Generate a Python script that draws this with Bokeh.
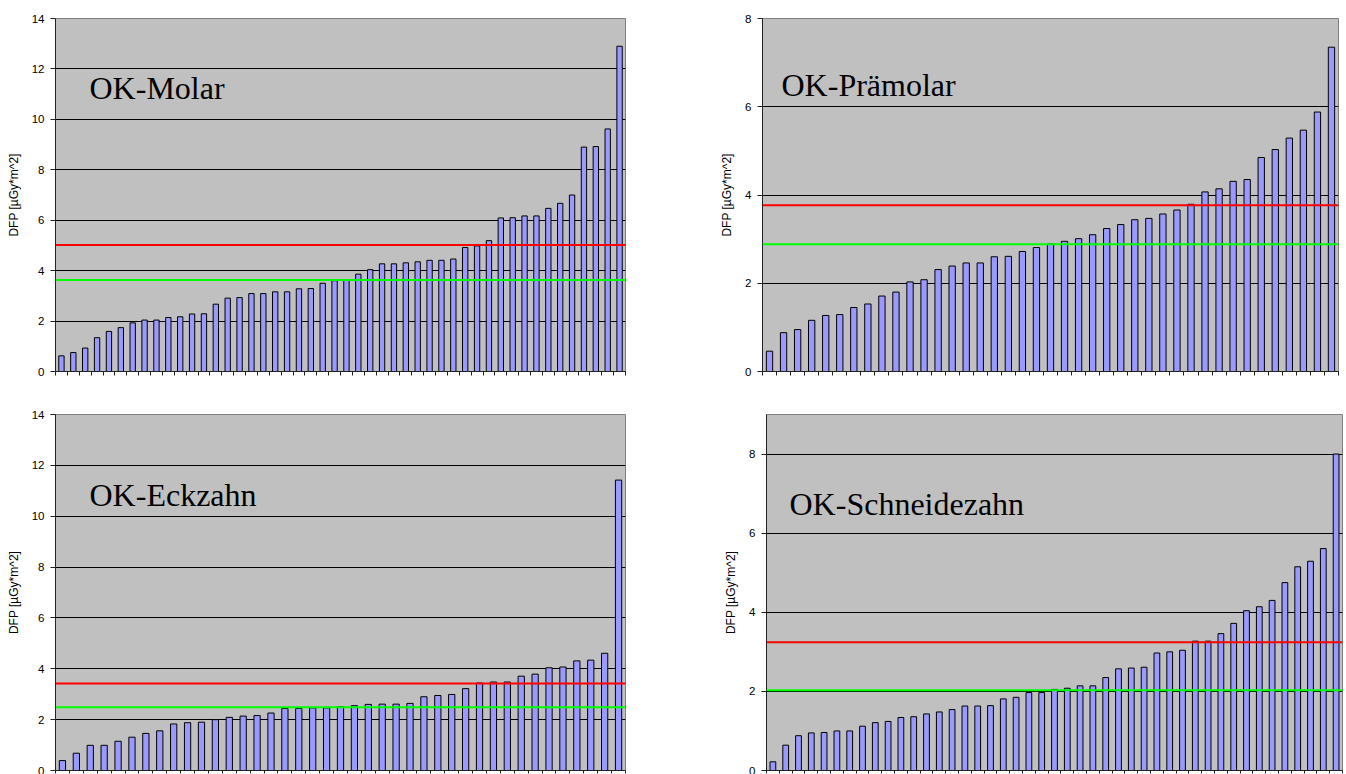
from bokeh.plotting import figure
from bokeh.models import Range1d, FixedTicker, Span, Label, CustomLabelingPolicy
from bokeh.layouts import column, row
from bokeh.embed import file_html
from bokeh.resources import INLINE

# ---- data ----
molar_values = [0.62, 0.75, 0.93, 1.34, 1.59, 1.74, 1.93, 2.04, 2.04, 2.14, 2.17, 2.28,
                2.29, 2.67, 2.91, 2.93, 3.09, 3.09, 3.16, 3.16, 3.28, 3.29, 3.50, 3.60,
                3.61, 3.86, 4.04, 4.27, 4.27, 4.31, 4.35, 4.41, 4.41, 4.46, 4.92, 4.98,
                5.19, 6.09, 6.10, 6.17, 6.17, 6.47, 6.67, 7.00, 8.90, 8.92, 9.62, 12.90]
praemolar_values = [0.46, 0.88, 0.95, 1.16, 1.27, 1.29, 1.45, 1.53, 1.71, 1.80, 2.03, 2.08,
                    2.31, 2.39, 2.46, 2.46, 2.60, 2.61, 2.72, 2.81, 2.89, 2.95, 3.01, 3.10,
                    3.24, 3.33, 3.44, 3.47, 3.57, 3.66, 3.79, 4.07, 4.14, 4.31, 4.35, 4.85,
                    5.03, 5.29, 5.47, 5.88, 7.35]
eckzahn_values = [0.39, 0.68, 0.99, 0.99, 1.15, 1.31, 1.46, 1.56, 1.83, 1.88, 1.90, 2.00,
                  2.09, 2.14, 2.16, 2.26, 2.44, 2.44, 2.46, 2.46, 2.51, 2.55, 2.60, 2.61,
                  2.61, 2.64, 2.90, 2.95, 2.99, 3.22, 3.44, 3.48, 3.48, 3.71, 3.79, 4.04,
                  4.07, 4.31, 4.34, 4.61, 11.42]
schneidezahn_values = [0.22, 0.64, 0.88, 0.95, 0.96, 1.00, 1.00, 1.12, 1.21, 1.24, 1.34, 1.36,
                       1.43, 1.48, 1.54, 1.63, 1.63, 1.64, 1.81, 1.85, 1.97, 1.97, 2.05, 2.08,
                       2.14, 2.14, 2.35, 2.57, 2.59, 2.61, 2.97, 3.00, 3.04, 3.27, 3.27, 3.46,
                       3.72, 4.04, 4.14, 4.30, 4.75, 5.15, 5.29, 5.61, 8.00]

titles = ["OK-Molar", "OK-Prämolar", "OK-Eckzahn", "OK-Schneidezahn"]
red_levels = [5.02, 3.77, 3.42, 3.24]      # upper reference line
green_levels = [3.63, 2.885, 2.49, 2.03]   # lower reference line
y_max = [14, 8, 14, 9]
y_ticks = [[0, 2, 4, 6, 8, 10, 12, 14], [0, 2, 4, 6, 8],
           [0, 2, 4, 6, 8, 10, 12, 14], [0, 2, 4, 6, 8]]
y_label = "DFP [µGy*m^2]"

# ---- layout / style ----
# (width, height, left, right, top, bottom, title dx px, title dy px)
geom = [
    (700, 400, 55, 75, 15, 29, 34, 70),
    (646, 400, 62, 8, 18, 27, 19, 67),
    (700, 374, 55, 75, 14, 3, 34, 81),
    (646, 374, 66, 4, 14, 4, 23, 89),
]
series = [molar_values, praemolar_values, eckzahn_values, schneidezahn_values]

hide_all_labels = CustomLabelingPolicy(code="""
for (const i of Array.from(indices)) { indices.unset(i) }
return indices
""")


def make_panel(k):
    vals = series[k]
    n = len(vals)
    w, h, bl, br, bt, bb, tdx, tdy = geom[k]
    ymax = y_max[k]
    p = figure(width=w, height=h, output_backend="svg", toolbar_location=None,
               x_range=Range1d(0.5, n + 0.5), y_range=Range1d(0, ymax),
               min_border_left=bl, min_border_right=br,
               min_border_top=bt, min_border_bottom=bb)
    p.background_fill_color = "#C0C0C0"
    p.border_fill_color = "white"
    p.outline_line_color = "#808080"
    p.outline_line_width = 1

    xs = list(range(1, n + 1))
    p.vbar(x=xs, top=vals, width=0.45, fill_color="#9999FF",
           line_color="black", line_width=1)

    p.add_layout(Span(location=red_levels[k], dimension="width",
                      line_color="#FF0000", line_width=2))
    p.add_layout(Span(location=green_levels[k], dimension="width",
                      line_color="#00FF00", line_width=2))

    # y axis
    yax = p.yaxis[0]
    yax.ticker = FixedTicker(ticks=y_ticks[k])
    yax.minor_tick_line_color = None
    yax.major_tick_in = 0
    yax.major_tick_out = 5
    yax.major_label_standoff = 6
    yax.major_label_text_font = "Liberation Sans"
    yax.major_label_text_font_size = "11.5px"
    yax.major_label_text_color = "black"
    yax.axis_line_color = "#222222"
    yax.major_tick_line_color = "#222222"
    yax.axis_label = y_label
    yax.axis_label_text_font = "Liberation Sans"
    yax.axis_label_text_font_size = "12px"
    yax.axis_label_text_font_style = "normal"
    yax.axis_label_text_color = "black"
    yax.axis_label_standoff = 8

    # x axis: ticks between categories, no labels
    xax = p.xaxis[0]
    xax.ticker = FixedTicker(ticks=[i + 0.5 for i in range(0, n + 1)])
    xax.minor_tick_line_color = None
    xax.major_tick_in = 0
    xax.major_tick_out = 4 if k < 2 else 3
    xax.major_label_policy = hide_all_labels
    xax.major_label_text_font_size = "0px"
    xax.major_label_standoff = 0
    xax.axis_line_color = "#222222"
    xax.major_tick_line_color = "#222222"

    # grid
    p.xgrid.visible = False
    p.ygrid.ticker = FixedTicker(ticks=[t for t in y_ticks[k] if 0 < t < ymax])
    p.ygrid.grid_line_color = "black"
    p.ygrid.grid_line_width = 1

    # title inside plot area
    fw = w - bl - br
    fh = h - bt - bb
    tx = 0.5 + tdx / (fw / n)
    ty = ymax - tdy / (fh / ymax)
    p.add_layout(Label(x=tx, y=ty, text=titles[k], text_font="Liberation Serif",
                       text_font_size="32px", text_color="black",
                       text_align="left", text_baseline="alphabetic"))
    return p


panels = [make_panel(k) for k in range(4)]
layout = column(row(panels[0], panels[1]), row(panels[2], panels[3]))

open("out.html", "w").write(file_html(layout, INLINE))
